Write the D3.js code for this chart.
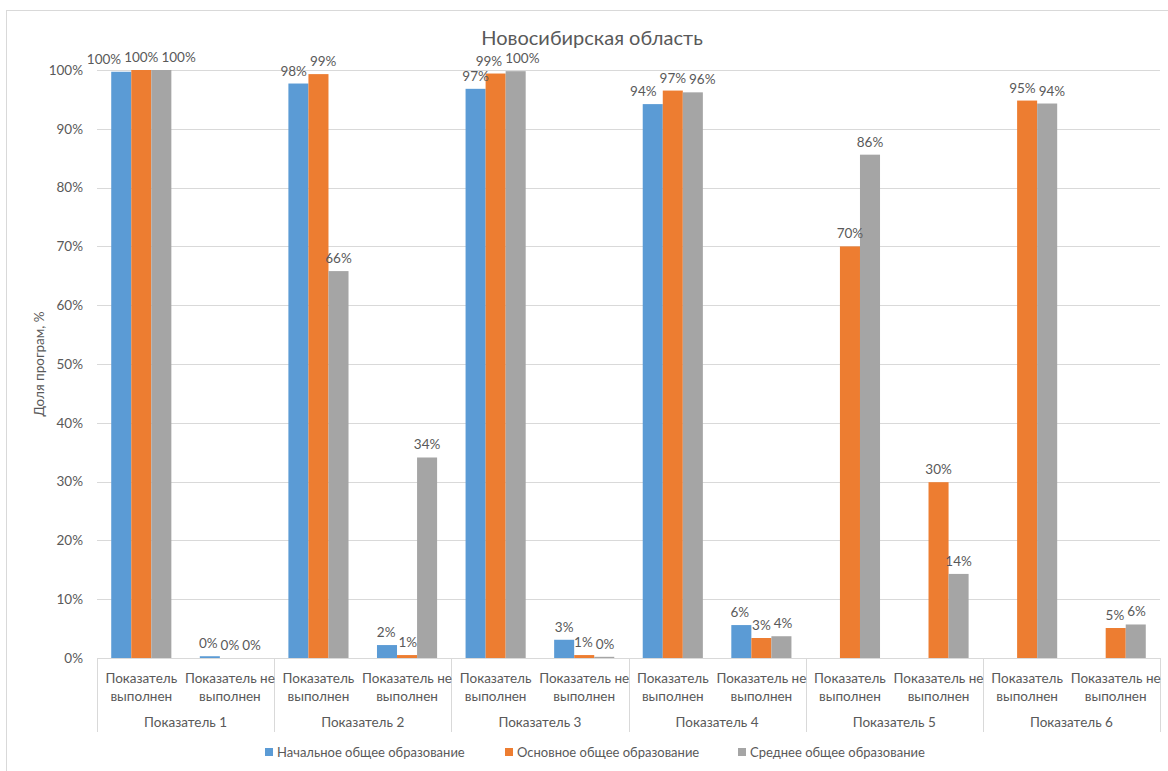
<!DOCTYPE html>
<html><head><meta charset="utf-8">
<script src="https://cdn.jsdelivr.net/npm/d3@7"></script>
<style>body{margin:0;background:#fff}svg{display:block}text{font-family:Lato,"Open Sans",sans-serif;fill:#595959}</style>
</head><body><svg id="c" width="1168" height="771"></svg>
<script>
const groups = ["Показатель 1","Показатель 2","Показатель 3","Показатель 4","Показатель 5","Показатель 6"];
const subcats = ["Показатель выполнен","Показатель не выполнен"];
const subLines = [["Показатель","выполнен"],["Показатель не","выполнен"]];
const seriesNames = ["Начальное общее образование","Основное общее образование","Среднее общее образование"];
const colors = ["#5b9bd5","#ed7d31","#a5a5a5"];
// values per series, ordered group1-вып, group1-не, group2-вып, ...
const nachalnoe = [0.997,0.003, 0.977,0.022, 0.968,0.031, 0.942,0.056, null,null, null,null];
const osnovnoe  = [1.000,0.000, 0.993,0.005, 0.994,0.005, 0.965,0.034, 0.700,0.299, 0.948,0.051];
const srednee   = [1.000,0.000, 0.658,0.341, 0.998,0.002, 0.962,0.037, 0.856,0.143, 0.943,0.057];
const seriesValues = [nachalnoe, osnovnoe, srednee];
const labelText = [
  ["100%","0%","98%","2%","97%","3%","94%","6%",null,null,null,null],
  ["100%","0%","99%","1%","99%","1%","97%","3%","70%","30%","95%","5%"],
  ["100%","0%","66%","34%","100%","0%","96%","4%","86%","14%","94%","6%"]
];
const yTicks = [0,0.1,0.2,0.3,0.4,0.5,0.6,0.7,0.8,0.9,1.0];

const svg = d3.select("#c");
const pL = 97, pR = 1160, pT = 70, pB = 658;
const FS = 13.5;

svg.append("rect").attr("x",6.5).attr("y",10.5).attr("width",1170).attr("height",780)
  .attr("fill","#fff").attr("stroke","#d9d9d9");

const y = d3.scaleLinear().domain([0,1]).range([pB, pT]);
const xg = d3.scaleBand().domain(groups).range([pL, pR]);
const xs = d3.scaleBand().domain(subcats).range([0, xg.bandwidth()]);
const xb = d3.scaleBand().domain(seriesNames).range([0, xs.bandwidth()]).paddingOuter(0.71).paddingInner(0);

// gridlines
svg.append("g").selectAll("line").data(yTicks.filter(d=>d>0)).join("line")
  .attr("x1",pL).attr("x2",pR).attr("y1",d=>Math.round(y(d))+0.5).attr("y2",d=>Math.round(y(d))+0.5)
  .attr("stroke","#d9d9d9").attr("stroke-width",1);

// y axis labels
const yAxis = d3.axisLeft(y).tickValues(yTicks).tickFormat(d3.format(".0%")).tickSize(0).tickPadding(14);
const ya = svg.append("g").attr("transform",`translate(${pL},0)`).call(yAxis);
ya.select(".domain").remove();
ya.selectAll("text").attr("font-size",FS).style("fill","#595959").style("font-family","Lato,sans-serif");

// bars
const flat = [];
groups.forEach((g,gi)=>subcats.forEach((s,si)=>seriesNames.forEach((n,ni)=>{
  const v = seriesValues[ni][gi*2+si];
  if (v!==null) flat.push({g,s,n,ni,v,key:g+"|"+s,label:labelText[ni][gi*2+si]});
})));
const bx = d => xg(d.g)+xs(d.s)+xb(d.n);
svg.append("g").selectAll("rect").data(flat).join("rect")
  .attr("x",bx).attr("width",xb.bandwidth())
  .attr("y",d=>y(d.v)).attr("height",d=>pB-y(d.v))
  .attr("fill",d=>colors[d.ni]);
const labels = svg.append("g").selectAll("text").data(flat).join("text")
  .attr("y",d=>y(d.v)-8)
  .attr("text-anchor","middle").attr("font-size",FS).text(d=>d.label);
// de-overlap labels within each subcategory cluster
labels.each(function(d){ d.w = this.getComputedTextLength(); d.cx = bx(d)+xb.bandwidth()/2; d.ly = y(d.v)-8; });
const clusters = d3.group(flat, d=>d.key);
for (const arr of clusters.values()) {
  for (let it=0; it<60; it++) {
    for (let i=0;i<arr.length;i++) for (let j=i+1;j<arr.length;j++) {
      const a=arr[i], b=arr[j];
      if (Math.abs(a.ly-b.ly) >= 14) continue;
      const need = (a.w+b.w)/2 + 3;
      const dist = b.cx - a.cx;
      if (dist < need) { const p=(need-dist)/2; a.cx-=p; b.cx+=p; }
    }
  }
}
labels.attr("x",d=>d.cx);

// x axis
svg.append("line").attr("x1",pL).attr("x2",pR).attr("y1",pB+0.5).attr("y2",pB+0.5).attr("stroke","#d9d9d9");
const seps = groups.map(g=>xg(g)).concat([pR]);
svg.append("g").selectAll("line").data(seps).join("line")
  .attr("x1",d=>Math.round(d)+0.5).attr("x2",d=>Math.round(d)+0.5).attr("y1",pB).attr("y2",732)
  .attr("stroke","#d9d9d9");
groups.forEach(g=>{
  subcats.forEach((s,si)=>{
    const cx = xg(g)+xs(s)+xs.bandwidth()/2;
    const t = svg.append("text").attr("text-anchor","middle").attr("font-size",FS).attr("x",cx).attr("y",683);
    t.append("tspan").attr("x",cx).text(subLines[si][0]);
    t.append("tspan").attr("x",cx).attr("dy",17.5).text(subLines[si][1]);
  });
  svg.append("text").attr("text-anchor","middle").attr("font-size",FS)
    .attr("x",xg(g)+xg.bandwidth()/2).attr("y",727).text(g);
});

// title
svg.append("text").attr("x",592).attr("y",45).attr("text-anchor","middle").attr("font-size",20).text("Новосибирская область");
// y title
svg.append("text").attr("transform","translate(44,364) rotate(-90)").attr("text-anchor","middle").attr("font-size",FS).text("Доля програм, %");

// legend
const legX = [265, 505, 738];
const lg = svg.append("g").selectAll("g").data(seriesNames).join("g")
  .attr("transform",(d,i)=>`translate(${legX[i]},748)`);
lg.append("rect").attr("width",8).attr("height",8).attr("fill",(d,i)=>colors[i]);
lg.append("text").attr("x",12).attr("y",8.5).attr("font-size",13).text(d=>d);
</script></body></html>
